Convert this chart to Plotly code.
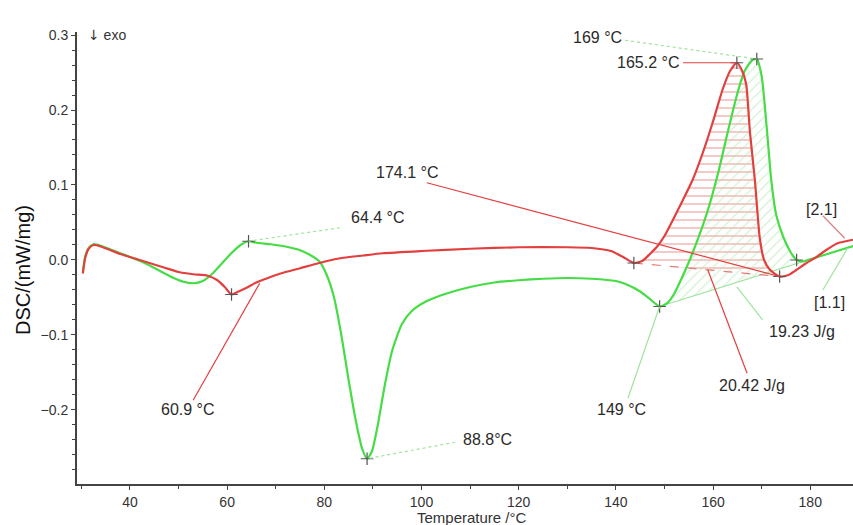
import plotly.graph_objects as go

# DSC heating curves, sample [1.1] (green) and sample [2.1] (red)
temp_11 = [30.3, 30.8, 31.5, 32.5, 34, 36, 38, 40, 43, 46, 49, 51, 53, 55, 57, 59, 61, 63, 64.4,
           66, 69, 72, 75, 77, 79, 80.5, 82, 83.5, 85, 86.5, 87.8, 88.8, 89.8, 91, 92.5, 94, 96,
           98, 101, 105, 110, 115, 120, 125, 130, 135, 140, 142, 145, 147, 149, 150.5, 152,
           153.5, 155, 157, 159, 161, 163, 165, 166.5, 168, 169, 170, 171, 172, 173, 174.5,
           176, 177.2, 178.5, 180, 182, 185, 189]
dsc_11 = [-0.016, 0.005, 0.016, 0.021, 0.019, 0.014, 0.009, 0.004, -0.004, -0.014, -0.024,
          -0.029, -0.031, -0.028, -0.018, -0.004, 0.010, 0.021, 0.025, 0.023, 0.021, 0.018,
          0.013, 0.007, -0.002, -0.020, -0.050, -0.100, -0.160, -0.215, -0.252, -0.265,
          -0.255, -0.220, -0.165, -0.120, -0.085, -0.068, -0.055, -0.045, -0.036, -0.030,
          -0.027, -0.025, -0.024, -0.025, -0.028, -0.032, -0.042, -0.052, -0.062, -0.058,
          -0.045, -0.025, -0.003, 0.030, 0.068, 0.115, 0.170, 0.222, 0.252, 0.266, 0.268,
          0.245, 0.180, 0.105, 0.060, 0.030, 0.010, 0.0, -0.002, 0.001, 0.005, 0.011, 0.019]

temp_21 = [30.3, 30.8, 31.5, 32.5, 34, 36, 38, 40, 44, 47, 50, 53, 56, 58, 59.5, 60.9, 62, 64,
           66, 68, 71, 75, 79, 83, 88, 92, 100, 110, 120, 130, 135, 139, 141.5, 143.7, 145.5,
           147, 148.5, 150, 151.7, 153.8, 155.8, 158, 160, 162, 163.5, 164.9, 166, 166.8,
           167.6, 168.6, 169.6, 170.5, 171.7, 173.7, 175.5, 177.2, 179, 181.3, 183, 185.5,
           188.8]
dsc_21 = [-0.018, 0.003, 0.015, 0.020, 0.018, 0.013, 0.008, 0.004, -0.004, -0.010, -0.016,
          -0.019, -0.021, -0.027, -0.036, -0.046, -0.043, -0.037, -0.030, -0.025, -0.018,
          -0.011, -0.004, 0.002, 0.006, 0.009, 0.012, 0.015, 0.017, 0.017, 0.016, 0.012,
          0.004, -0.004, -0.001, 0.008, 0.018, 0.032, 0.053, 0.080, 0.107, 0.145, 0.185,
          0.228, 0.252, 0.263, 0.252, 0.235, 0.170, 0.107, 0.030, 0.0, -0.013, -0.022,
          -0.020, -0.013, -0.005, 0.004, 0.012, 0.022, 0.027]

# characteristic points (°C, mW/mg)
peaks_11 = [(64.4, 0.025), (88.8, -0.265), (149.0, -0.062), (169.0, 0.268), (177.2, 0.0)]
peaks_21 = [(60.9, -0.046), (143.7, -0.004), (164.9, 0.263), (173.7, -0.022)]

# integration limits of the melting peaks
melt_11 = (149.0, 177.2)
melt_21 = (143.7, 173.7)
base_11_end = (189.0, 0.019)

# axis ticks
x_ticks = [40, 60, 80, 100, 120, 140, 160, 180]
y_ticks = [-0.2, -0.1, 0.0, 0.1, 0.2, 0.3]
y_tick_text = ["\u22120.2", "\u22120.1", "0.0", "0.1", "0.2", "0.3"]

RED = "#e2403f"
GREEN = "#46dc46"
LIGHT_GREEN = "#9fe39f"
FONT = "Liberation Sans"

# plot-area geometry in pixels
L, R, T, B = 77, 0, 32, 41
W, H = 853, 525
PW, PH = W - L - R, H - T - B


def value_at(ts, ys, t):
    for i in range(len(ts) - 1):
        if ts[i] <= t <= ts[i + 1]:
            f = (t - ts[i]) / (ts[i + 1] - ts[i])
            return ys[i] + f * (ys[i + 1] - ys[i])
    return ys[-1]


fig = go.Figure()

# hatched peak areas
t0, t1 = melt_21
ra_t = [t for t in temp_21 if t0 <= t <= t1]
ra_y = [y for t, y in zip(temp_21, dsc_21) if t0 <= t <= t1]
fig.add_trace(go.Scatter(x=ra_t + [ra_t[0]], y=ra_y + [ra_y[0]], mode="lines", fill="toself",
                         line=dict(width=0), fillcolor="rgba(0,0,0,0)",
                         fillpattern=dict(shape="-", fgcolor="#e86a6a", bgcolor="rgba(0,0,0,0)",
                                          size=8, solidity=0.18),
                         hoverinfo="skip", showlegend=False))

g0, g1 = melt_11
b0 = value_at(temp_11, dsc_11, g0)
slope = (base_11_end[1] - b0) / (base_11_end[0] - g0)
ga_t = [t for t in temp_11 if g0 <= t <= g1]
ga_y = [y for t, y in zip(temp_11, dsc_11) if g0 <= t <= g1]
fig.add_trace(go.Scatter(x=ga_t + [g1, g0], y=ga_y + [b0 + slope * (g1 - g0), b0], mode="lines",
                         fill="toself", line=dict(width=0), fillcolor="rgba(0,0,0,0)",
                         fillpattern=dict(shape="/", fgcolor="#a8e4a8", bgcolor="rgba(0,0,0,0)",
                                          size=7, solidity=0.18),
                         hoverinfo="skip", showlegend=False))

# baselines
fig.add_trace(go.Scatter(x=[g0, base_11_end[0]], y=[b0, base_11_end[1]], mode="lines",
                         line=dict(color=LIGHT_GREEN, width=1.2), hoverinfo="skip",
                         showlegend=False))
fig.add_trace(go.Scatter(x=[t0, t1], y=[value_at(temp_21, dsc_21, t0), value_at(temp_21, dsc_21, t1)],
                         mode="lines", line=dict(color="#e87a7a", width=1.2, dash="dash"),
                         hoverinfo="skip", showlegend=False))

# curves
fig.add_trace(go.Scatter(x=temp_11, y=dsc_11, mode="lines", name="[1.1]",
                         line=dict(color=GREEN, width=2.2, shape="spline", smoothing=0.6),
                         showlegend=False))
fig.add_trace(go.Scatter(x=temp_21, y=dsc_21, mode="lines", name="[2.1]",
                         line=dict(color=RED, width=2.2, shape="spline", smoothing=0.6),
                         showlegend=False))

# marked points
pts = peaks_11 + peaks_21
fig.add_trace(go.Scatter(x=[p[0] for p in pts], y=[p[1] for p in pts], mode="markers",
                         marker=dict(symbol="cross-thin", size=9,
                                     line=dict(color="#555555", width=1.2)),
                         hoverinfo="skip", showlegend=False))

# labels with leader lines: (text, label x, label y, leader start, leader end, colour, dash)
labels = [
    ("169 °C", 136.3, 0.297, (141.9, 0.293), peaks_11[3], LIGHT_GREEN, "dot"),
    ("165.2 °C", 146.6, 0.263, (153.8, 0.263), peaks_21[2], RED, "solid"),
    ("174.1 °C", 97.0, 0.117, (101.1, 0.103), peaks_21[3], RED, "solid"),
    ("64.4 °C", 91.0, 0.056, (83.2, 0.043), peaks_11[0], LIGHT_GREEN, "dot"),
    ("60.9 °C", 51.9, -0.200, (53.0, -0.187), (66.7, -0.031), RED, "solid"),
    ("88.8°C", 113.5, -0.240, (106.9, -0.243), peaks_11[1], LIGHT_GREEN, "dot"),
    ("149 °C", 141.2, -0.200, (142.5, -0.184), peaks_11[2], LIGHT_GREEN, "solid"),
    ("20.42 J/g", 168.0, -0.167, (167.0, -0.151), (158.9, -0.013), RED, "solid"),
    ("19.23 J/g", 178.3, -0.096, (170.2, -0.080), (164.9, -0.036), LIGHT_GREEN, "solid"),
    ("[2.1]", 182.4, 0.067, (182.6, 0.059), (187.1, 0.029), "#d98080", "solid"),
    ("[1.1]", 184.0, -0.057, (182.6, -0.040), (187.7, 0.016), LIGHT_GREEN, "solid"),
]
for text, lx, ly, s, e, col, dash in labels:
    fig.add_shape(type="line", x0=s[0], y0=s[1], x1=e[0], y1=e[1], xref="x", yref="y",
                  line=dict(color=col, width=1.2, dash=dash), layer="above")
    fig.add_annotation(x=lx, y=ly, xref="x", yref="y", text=text, showarrow=False,
                       font=dict(family=FONT, size=16, color="#2a2a2a"))

# direction note next to the top of the y axis
fig.add_annotation(x=(86 - L) / PW, y=1 - (35 - T) / PH, xref="paper", yref="paper",
                   text="<span style='font-family:DejaVu Sans'>\u2193</span> exo",
                   showarrow=False, xanchor="left", yanchor="middle",
                   font=dict(family=FONT, size=14, color="#333333"))

# axis titles
fig.add_annotation(x=(23 - L) / PW, y=1 - (270 - T) / PH, xref="paper", yref="paper",
                   text="DSC/(mW/mg)", textangle=-90, showarrow=False,
                   xanchor="center", yanchor="middle",
                   font=dict(family=FONT, size=20, color="#111111"))
fig.add_annotation(x=(472 - L) / PW, y=1 - (517 - T) / PH, xref="paper", yref="paper",
                   text="Temperature /°C", showarrow=False,
                   xanchor="center", yanchor="middle",
                   font=dict(family=FONT, size=15, color="#333333"))

axis_common = dict(showline=True, linecolor="#444444", linewidth=2, ticks="outside",
                   ticklen=4, tickcolor="#444444", showgrid=False, zeroline=False,
                   tickfont=dict(family=FONT, size=14, color="#333333"), mirror=False)

fig.update_layout(
    width=W, height=H,
    margin=dict(l=L, r=R, t=T, b=B),
    paper_bgcolor="white", plot_bgcolor="white",
    xaxis=dict(range=[29.1, 188.8], tickvals=x_ticks, ticktext=[str(v) for v in x_ticks],
               ticklabelstandoff=0,
               minor=dict(dtick=10, tick0=0, ticks="outside", ticklen=3, tickcolor="#444444"),
               **axis_common),
    yaxis=dict(range=[-0.2987, 0.304], tickvals=y_ticks, ticktext=y_tick_text,
               minor=dict(dtick=0.02, tick0=0, ticks="outside", ticklen=3, tickcolor="#444444"),
               **axis_common),
)

fig.write_html("out.html")
